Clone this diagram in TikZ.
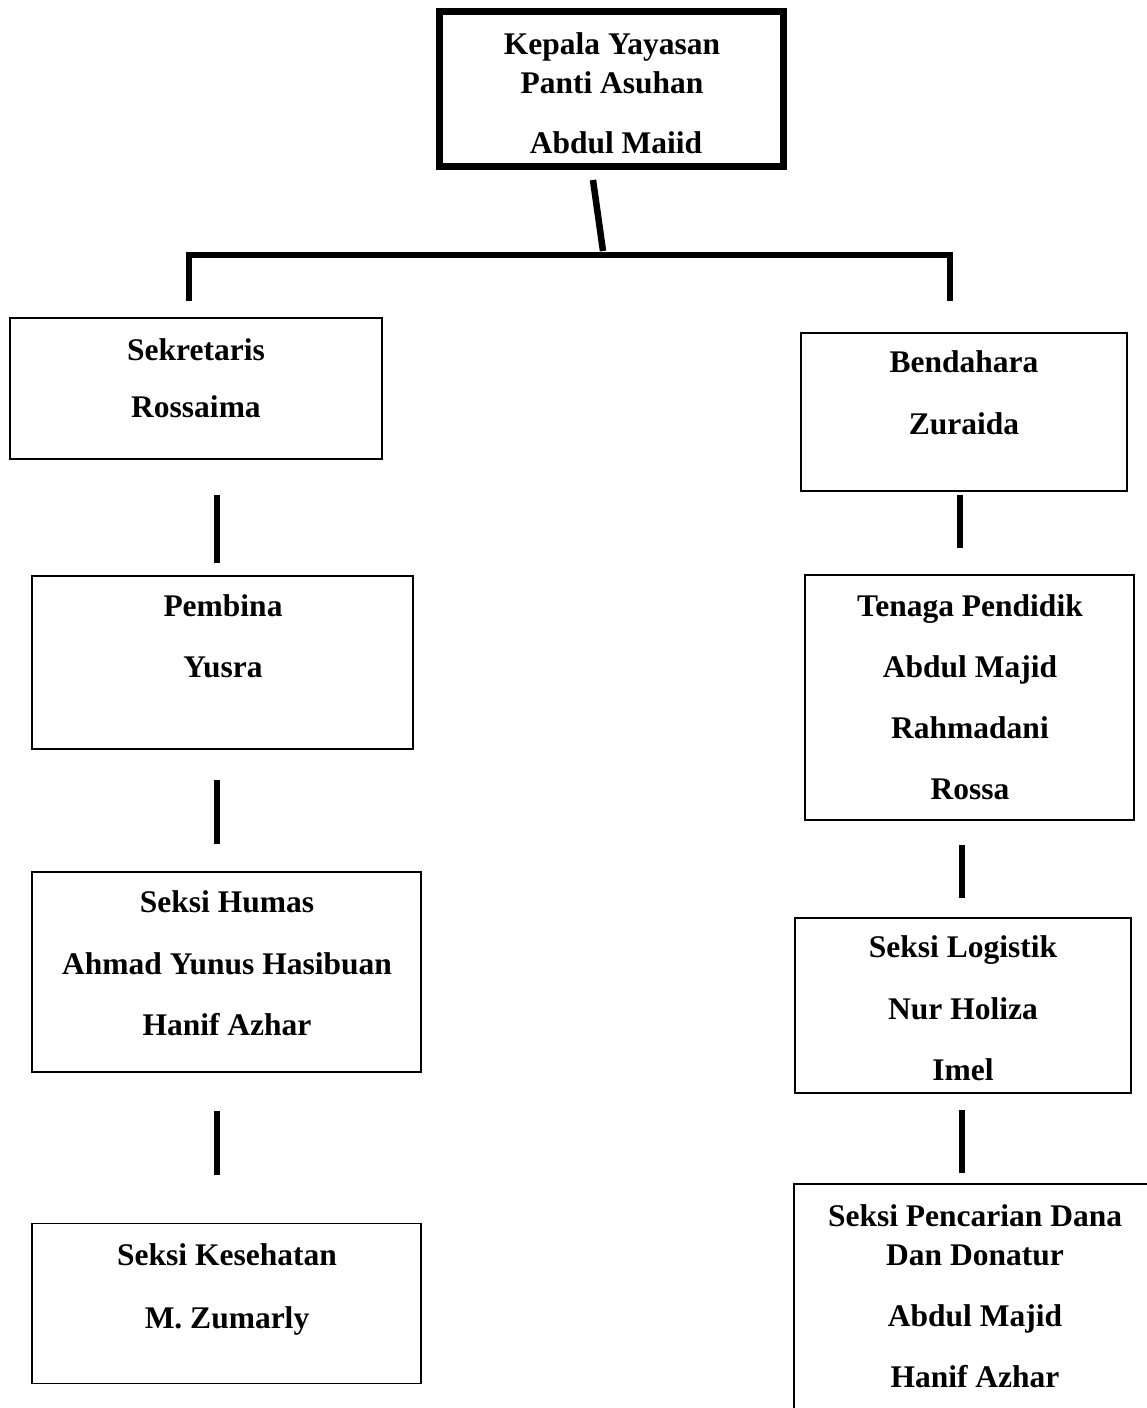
\documentclass[tikz,border=0pt]{standalone}
\usepackage{fontspec}
\setmainfont{Liberation Serif}
\begin{document}
\begin{tikzpicture}[x=1pt,y=-1pt,
  box/.style={draw, line width=1.6pt, inner sep=0pt},
  bigbox/.style={draw, line width=7pt, inner sep=0pt},
  txt/.style={anchor=base, inner sep=0pt, font=\fontsize{31.5}{38}\selectfont\bfseries},
  conn/.style={line width=6.5pt}]
\useasboundingbox (0,0) rectangle (1147,1408);
\fill[white] (0,0) rectangle (1147,1408);

% boxes (pixel coordinates, y downward)
\node[bigbox, minimum width=344pt, minimum height=155pt] (kepala) at (611,88.5) {};
\node[box, minimum width=372pt, minimum height=141pt] (sek) at (196,388.5) {};
\node[box, minimum width=326pt, minimum height=158pt] (bend) at (964,412) {};
\node[box, minimum width=381pt, minimum height=173pt] (pem) at (222.5,662.5) {};
\node[box, minimum width=329pt, minimum height=245pt] (ten) at (969.5,697.5) {};
\node[box, minimum width=389pt, minimum height=200pt] (hum) at (226.5,972) {};
\node[box, minimum width=336pt, minimum height=175pt] (log) at (963,1005.5) {};
\node[box, minimum width=389pt, minimum height=160pt] (kes) at (226.5,1303.5) {};
\node[box, minimum width=380pt, minimum height=250pt] (dana) at (984,1309) {};

% texts
\node[txt] (k1) at (612,54) {Kepala Yayasan};
\node[txt] (k2) at (612,93) {Panti Asuhan};
\node[txt] (k3) at (616,153) {Abdul Maiid};

\node[txt] (s1) at (196,360) {Sekretaris};
\node[txt] (s2) at (196,417) {Rossaima};

\node[txt] (b1) at (964,372) {Bendahara};
\node[txt] (b2) at (964,434) {Zuraida};

\node[txt] (p1) at (223,616) {Pembina};
\node[txt] (p2) at (223,677) {Yusra};

\node[txt] (t1) at (970,616) {Tenaga Pendidik};
\node[txt] (t2) at (970,677) {Abdul Majid};
\node[txt] (t3) at (970,738) {Rahmadani};
\node[txt] (t4) at (970,799) {Rossa};

\node[txt] (h1) at (227,912) {Seksi Humas};
\node[txt] (h2) at (227,974) {Ahmad Yunus Hasibuan};
\node[txt] (h3) at (227,1035) {Hanif Azhar};

\node[txt] (l1) at (963,957) {Seksi Logistik};
\node[txt] (l2) at (963,1019) {Nur Holiza};
\node[txt] (l3) at (963,1080) {Imel};

\node[txt] (e1) at (227,1265) {Seksi Kesehatan};
\node[txt] (e2) at (227,1328) {M. Zumarly};

\node[txt] (d1) at (975,1226) {Seksi Pencarian Dana};
\node[txt] (d2) at (975,1265) {Dan Donatur};
\node[txt] (d3) at (975,1326) {Abdul Majid};
\node[txt] (d4) at (975,1387) {Hanif Azhar};

% connector end points
\coordinate (topA) at (593,180);
\coordinate (topB) at (603,251);
\coordinate (barL) at (189,255);
\coordinate (barR) at (950,255);
\coordinate (stubL) at (189,301);
\coordinate (stubR) at (950,301);
\coordinate (a1) at (217,495);  \coordinate (a2) at (217,563);
\coordinate (a3) at (217,780);  \coordinate (a4) at (217,844);
\coordinate (a5) at (217,1111); \coordinate (a6) at (217,1175);
\coordinate (r1) at (960,495);  \coordinate (r2) at (960,548);
\coordinate (r3) at (962,845);  \coordinate (r4) at (962,898);
\coordinate (r5) at (962,1110); \coordinate (r6) at (962,1173);

\draw[conn] (topA) -- (topB);
\draw[conn] (stubL) -- (barL) -- (barR) -- (stubR);
\draw[conn] (a1) -- (a2);
\draw[conn] (a3) -- (a4);
\draw[conn] (a5) -- (a6);
\draw[conn] (r1) -- (r2);
\draw[conn] (r3) -- (r4);
\draw[conn] (r5) -- (r6);
\end{tikzpicture}
\end{document}
